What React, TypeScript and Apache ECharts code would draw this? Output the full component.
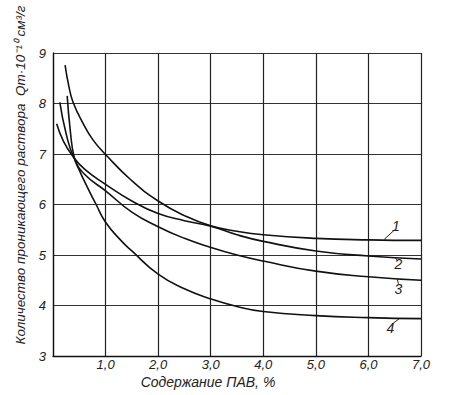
import React, { useEffect, useRef } from "react";
import * as echarts from "echarts";

const xTicks = [0, 1, 2, 3, 4, 5, 6, 7];
const yTicks = [3, 4, 5, 6, 7, 8, 9];

const curve1: [number, number][] = [
  [0.23, 8.76], [0.3, 8.35], [0.38, 8.03], [0.57, 7.61], [0.76, 7.28], [1.0, 6.99],
  [1.5, 6.47], [2.0, 6.07], [2.5, 5.78], [3.0, 5.58], [3.5, 5.47], [4.0, 5.4],
  [5.0, 5.33], [6.0, 5.3], [7.0, 5.29],
];
const curve2: [number, number][] = [
  [0.07, 7.6], [0.2, 7.25], [0.38, 6.95], [0.6, 6.7], [1.0, 6.4], [1.5, 6.07],
  [2.0, 5.82], [2.5, 5.68], [3.0, 5.57], [3.5, 5.4], [4.0, 5.27], [5.0, 5.08],
  [6.0, 4.98], [7.0, 4.92],
];
const curve3: [number, number][] = [
  [0.13, 8.02], [0.25, 7.4], [0.4, 6.92], [0.6, 6.6], [1.0, 6.27], [1.5, 5.85],
  [2.0, 5.56], [2.5, 5.33], [3.0, 5.15], [3.5, 5.0], [4.0, 4.88], [5.0, 4.68],
  [6.0, 4.57], [7.0, 4.5],
];
const curve4: [number, number][] = [
  [0.27, 8.15], [0.33, 7.45], [0.4, 6.95], [0.5, 6.68], [0.65, 6.35], [0.82, 6.0],
  [1.0, 5.65], [1.3, 5.28], [1.5, 5.08], [2.0, 4.62], [2.5, 4.33], [3.0, 4.13],
  [3.5, 3.98], [4.0, 3.88], [5.0, 3.8], [6.0, 3.76], [7.0, 3.74],
];

const curveNames = ["1", "2", "3", "4"];
const labelPos: [number, number][] = [[6.52, 5.58], [6.57, 4.82], [6.57, 4.33], [6.42, 3.56]];
const leaders: [[number, number], [number, number]][] = [
  [[6.3, 5.31], [6.5, 5.5]],
  [[6.5, 4.96], [6.56, 4.88]],
  [[6.55, 4.52], [6.57, 4.43]],
  [[6.6, 3.75], [6.45, 3.63]],
];

const xLabel = "Содержание ПАВ, %";
const yLabel = "Количество проникающего раствора  Qт·10⁻¹⁰ см³/г";

export default function App() {
  const ref = useRef<HTMLDivElement>(null);
  useEffect(() => {
    if (!ref.current) return;
    const chart = echarts.init(ref.current, undefined, { renderer: "svg" });
    const font = "Liberation Sans";
    const curves = [curve1, curve2, curve3, curve4];
    chart.setOption({
      animation: false,
      backgroundColor: "#fff",
      grid: { left: 53, right: 31, top: 53, bottom: 39 },
      xAxis: {
        type: "value",
        min: xTicks[0],
        max: xTicks[xTicks.length - 1],
        interval: 1,
        axisLine: { lineStyle: { color: "#111", width: 1.3 } },
        axisTick: { show: false },
        splitLine: { show: true, lineStyle: { color: "#222", width: 1.2 } },
        axisLabel: {
          color: "#222",
          fontFamily: font,
          fontStyle: "italic",
          fontSize: 13,
          margin: 2,
          formatter: (v: number) => (v === 0 ? "" : v.toFixed(1).replace(".", ",")),
        },
      },
      yAxis: {
        type: "value",
        min: yTicks[0],
        max: yTicks[yTicks.length - 1],
        interval: 1,
        axisLine: { show: true, lineStyle: { color: "#111", width: 1.3 } },
        axisTick: { show: false },
        splitLine: { show: true, lineStyle: { color: "#333", width: 1.1 } },
        axisLabel: {
          color: "#222",
          fontFamily: font,
          fontStyle: "italic",
          fontSize: 13,
          margin: 7,
        },
      },
      graphic: [
        {
          type: "text",
          x: 208,
          y: 382,
          style: {
            text: xLabel,
            fontFamily: font,
            fontStyle: "italic",
            fontSize: 14,
            fill: "#222",
            textAlign: "center",
            textVerticalAlign: "middle",
          },
        },
        {
          type: "text",
          x: 20,
          y: 175,
          rotation: Math.PI / 2,
          style: {
            text: yLabel,
            fontFamily: font,
            fontStyle: "italic",
            fontSize: 13.5,
            fill: "#222",
            textAlign: "center",
            textVerticalAlign: "middle",
          },
        },
      ],
      series: curves.map((c, i) => ({
        type: "line",
        name: curveNames[i],
        data: c,
        smooth: 0.5,
        showSymbol: false,
        lineStyle: { color: "#111", width: 1.6 },
        z: 5,
        markPoint: {
          symbol: "circle",
          symbolSize: 0,
          data: [
            {
              coord: labelPos[i],
              label: {
                show: true,
                formatter: curveNames[i],
                position: "inside",
                color: "#222",
                fontFamily: font,
                fontStyle: "italic",
                fontSize: 14,
              },
            },
          ],
        },
        markLine: {
          symbol: "none",
          silent: true,
          label: { show: false },
          lineStyle: { color: "#222", width: 1, type: "solid" },
          data: [[{ coord: leaders[i][0] }, { coord: leaders[i][1] }]],
        },
      })),
    });
    return () => chart.dispose();
  }, []);
  return (
    <div
      ref={ref}
      style={{ position: "fixed", left: 0, top: 0, width: 452, height: 395 }}
    />
  );
}
